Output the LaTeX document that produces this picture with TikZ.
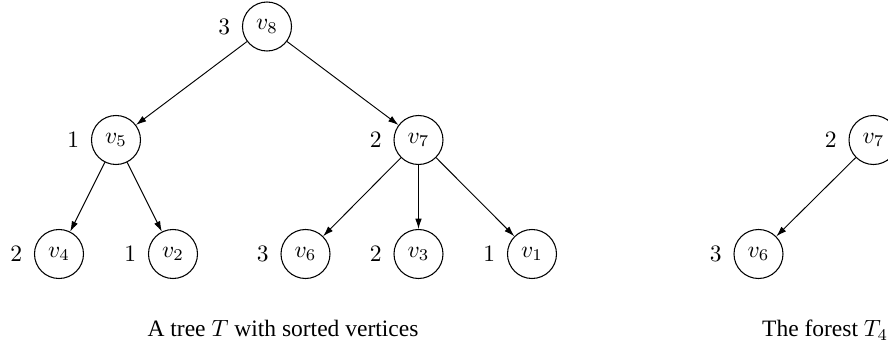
\documentclass[tikz,border=0pt]{standalone}
\usepackage{fontspec}
\setmainfont{Liberation Serif}
\usetikzlibrary{arrows.meta}
\begin{document}
\begin{tikzpicture}[x=0.4255pt,y=-0.4255pt,
  vtx/.style={draw,circle,minimum size=20.85pt,inner sep=0pt,line width=0.45pt},
  every label/.style={inner sep=3.33pt},
  label distance=1.5pt,
  edge/.style={-{Latex[length=4.4pt,width=2.8pt]},line width=0.4pt},
  captext/.style={inner sep=0pt,anchor=base}]
\useasboundingbox (0,0) rectangle (888,345);
\clip (0,0) rectangle (888,345);
% tree T
\node[vtx,label=left:$3$] (v8) at (267,26.5) {$v_8$};
\node[vtx,label=left:$1$] (v5) at (116,140) {$v_5$};
\node[vtx,label=left:$2$] (v7) at (418.5,140) {$v_7$};
\node[vtx,label=left:$2$] (v4) at (59,254) {$v_4$};
\node[vtx,label=left:$1$] (v2) at (173,254) {$v_2$};
\node[vtx,label=left:$3$] (v6) at (305.5,254) {$v_6$};
\node[vtx,label=left:$2$] (v3) at (418.5,254) {$v_3$};
\node[vtx,label=left:$1$] (v1) at (532,254) {$v_1$};
\draw[edge] (v8) -- (v5);
\draw[edge] (v8) -- (v7);
\draw[edge] (v5) -- (v4);
\draw[edge] (v5) -- (v2);
\draw[edge] (v7) -- (v6);
\draw[edge] (v7) -- (v3);
\draw[edge] (v7) -- (v1);
\node[captext] (capA) at (283,336.7) {A tree $T$ with sorted vertices};
% forest T4
\node[vtx,label=left:$2$] (w7) at (873.5,140) {$v_7$};
\node[vtx,label=left:$3$] (w6) at (758.5,254) {$v_6$};
\draw[edge] (w7) -- (w6);
\node[captext,anchor=base west] (capB) at (761.7,336.7) {The forest $T_4$};
\end{tikzpicture}
\end{document}
